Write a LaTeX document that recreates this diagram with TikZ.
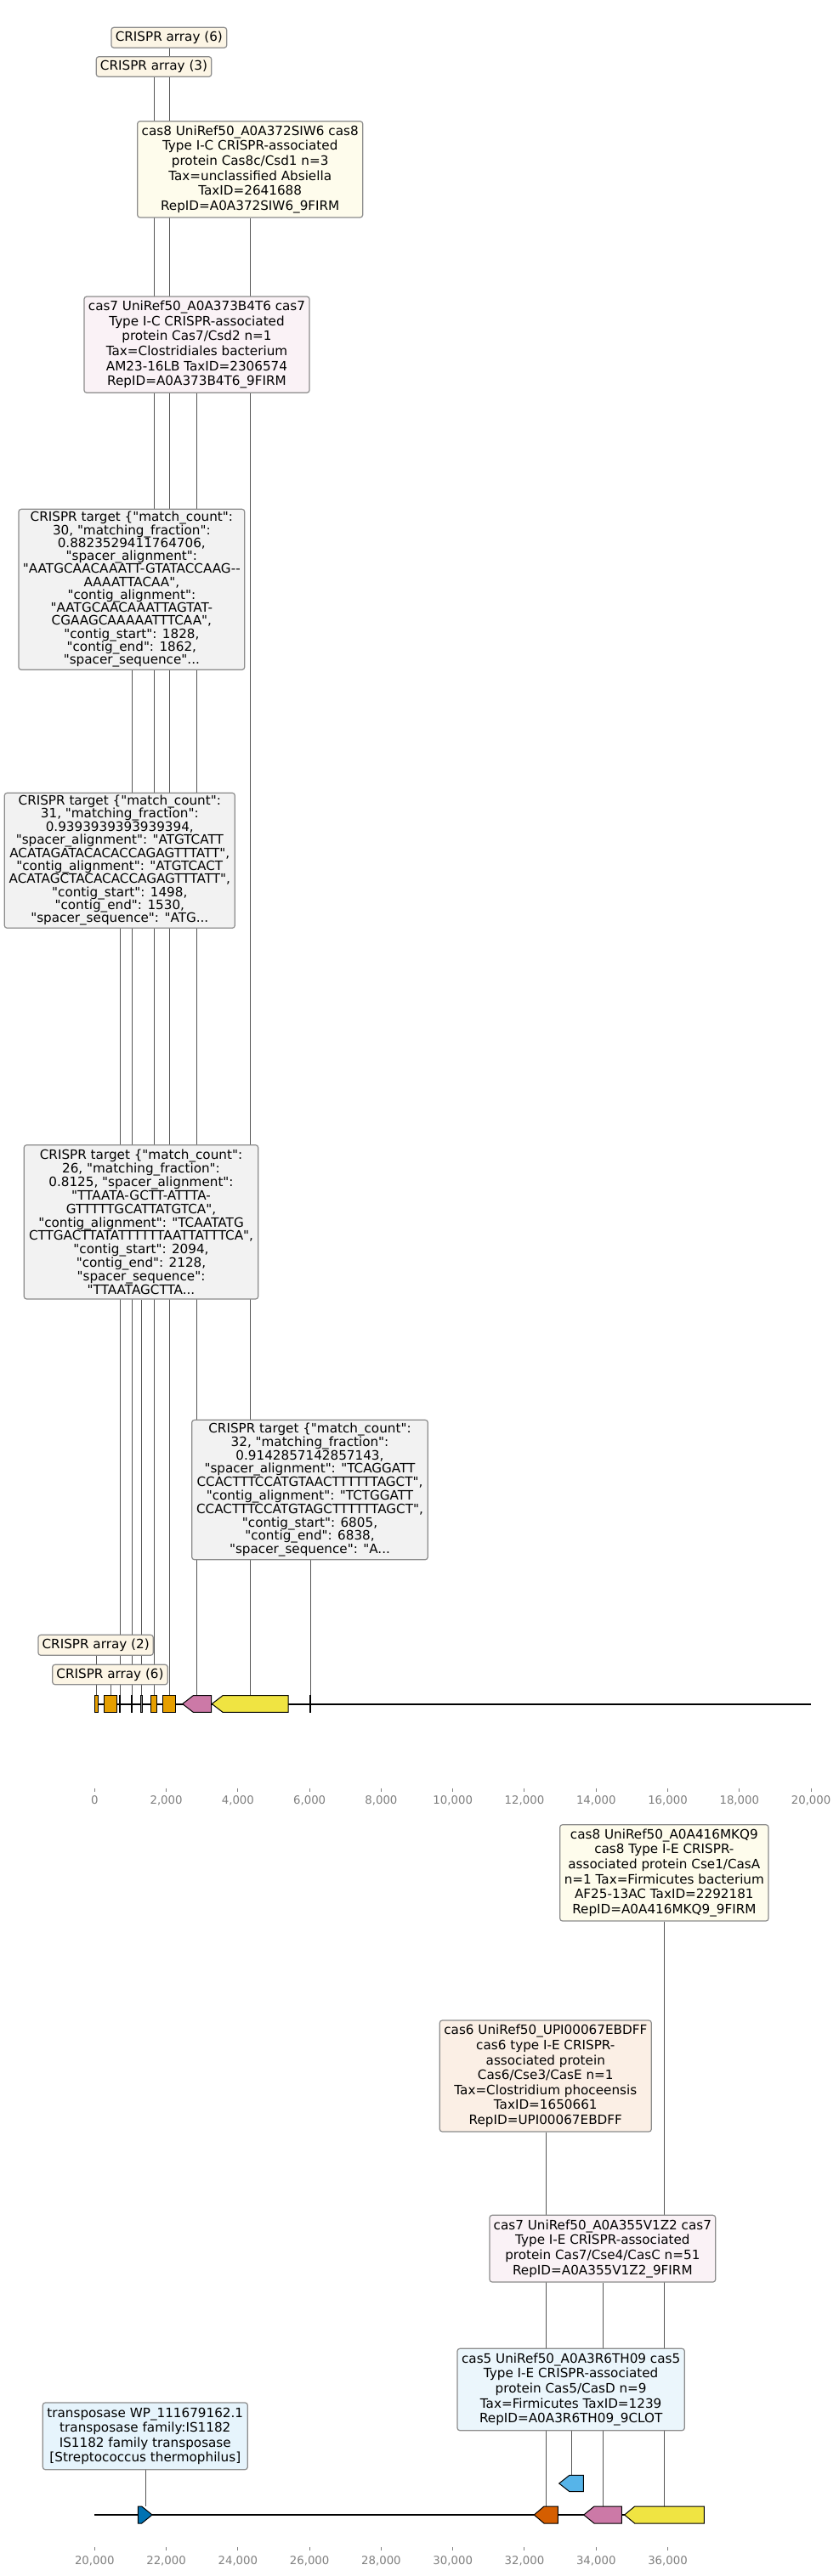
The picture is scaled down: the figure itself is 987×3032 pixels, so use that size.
\documentclass[tikz,border=0pt]{standalone}
\usepackage{fontspec}
\setmainfont{DejaVu Sans}[Ligatures=TeXOff]
\usetikzlibrary{backgrounds}
\definecolor{cOrange}{HTML}{E69F00}
\definecolor{cPink}{HTML}{CC79A7}
\definecolor{cYellow}{HTML}{F0E442}
\definecolor{cBlue}{HTML}{0072B2}
\definecolor{cSky}{HTML}{56B4E9}
\definecolor{cVerm}{HTML}{D55E00}
\definecolor{cGray}{HTML}{808080}
\definecolor{boxedge}{HTML}{8C8C8C}
\definecolor{conn}{HTML}{555555}
\tikzset{
 lab/.style={draw=boxedge, line width=1.2pt, rounded corners=3pt, inner sep=0pt, align=center, font=\fontsize{15.2}{17.6}\selectfont},
 tgt/.style={lab, fill=cGray!10},
 feat/.style={draw=black, line width=1pt},
 link/.style={draw=conn, line width=1pt},
 track/.style={draw=black, line width=2pt},
 tickmark/.style={draw=cGray, line width=1pt},
 ticklab/.style={text=cGray, font=\fontsize{13.3}{16}\selectfont, inner sep=0pt},
}
\begin{document}
\begin{tikzpicture}[x=1pt,y=-1pt]
\useasboundingbox (0,0) rectangle (987,3032);

% ---------------- labels, panel 1 ----------------
\node[lab, fill=cOrange!10, minimum width=135.7pt, minimum height=24pt] (CA6t) at (198.85,44.3) {CRISPR array (6)};
\node[lab, fill=cOrange!10, minimum width=135.4pt, minimum height=23.6pt] (CA3) at (181,78.5) {CRISPR array (3)};
\node[lab, fill=cYellow!10, minimum width=265pt, minimum height=113.3pt] (cas8C) at (294.2,199.35)
 {cas8 UniRef50\_A0A372SIW6 cas8\\Type I-C CRISPR-associated\\protein Cas8c/Csd1 n=3\\Tax=unclassified Absiella\\TaxID=2641688\\RepID=A0A372SIW6\_9FIRM};
\node[lab, fill=cPink!10, minimum width=265pt, minimum height=113.3pt] (cas7C) at (231.5,405.65)
 {cas7 UniRef50\_A0A373B4T6 cas7\\Type I-C CRISPR-associated\\protein Cas7/Csd2 n=1\\Tax=Clostridiales bacterium\\AM23-16LB TaxID=2306574\\RepID=A0A373B4T6\_9FIRM};
\node[tgt, font=\fontsize{15.2}{15.24}\selectfont, minimum width=265.7pt, minimum height=189pt] (T1) at (154.85,693.8)
 {CRISPR target \{"match\_count":\\30, "matching\_fraction":\\0.8823529411764706,\\"spacer\_alignment":\\"AATGCAACAAATT-GTATACCAAG-{}-\\AAAATTACAA",\\"contig\_alignment":\\"AATGCAACAAATTAGTAT-\\CGAAGCAAAAATTTCAA",\\"contig\_start": 1828,\\"contig\_end": 1862,\\"spacer\_sequence"...};
\node[tgt, font=\fontsize{15.2}{15.37}\selectfont, minimum width=271pt, minimum height=159pt] (T2) at (140.8,1012.8)
 {CRISPR target \{"match\_count":\\31, "matching\_fraction":\\0.9393939393939394,\\"spacer\_alignment": "ATGTCATT\\ACATAGATACACACCAGAGTTTATT",\\"contig\_alignment": "ATGTCACT\\ACATAGCTACACACCAGAGTTTATT",\\"contig\_start": 1498,\\"contig\_end": 1530,\\"spacer\_sequence": "ATG...};
\node[tgt, font=\fontsize{15.2}{15.93}\selectfont, minimum width=275.4pt, minimum height=181.3pt] (T3) at (166,1438.35)
 {CRISPR target \{"match\_count":\\26, "matching\_fraction":\\0.8125, "spacer\_alignment":\\"TTAATA-GCTT-ATTTA-\\GTTTTTGCATTATGTCA",\\"contig\_alignment": "TCAATATG\\CTTGACTTATATTTTTTAATTATTTCA",\\"contig\_start": 2094,\\"contig\_end": 2128,\\"spacer\_sequence":\\"TTAATAGCTTA...};
\node[tgt, font=\fontsize{15.2}{15.8}\selectfont, minimum width=277.6pt, minimum height=164.4pt] (T4) at (364.5,1753.5)
 {CRISPR target \{"match\_count":\\32, "matching\_fraction":\\0.9142857142857143,\\"spacer\_alignment": "TCAGGATT\\CCACTTTCCATGTAACTTTTTTAGCT",\\"contig\_alignment": "TCTGGATT\\CCACTTTCCATGTAGCTTTTTTAGCT",\\"contig\_start": 6805,\\"contig\_end": 6838,\\"spacer\_sequence": "A...};
\node[lab, fill=cOrange!10, minimum width=135.3pt, minimum height=24pt] (CA2) at (112.65,1936.3) {CRISPR array (2)};
\node[lab, fill=cOrange!10, minimum width=135.6pt, minimum height=23.4pt] (CA6b) at (129.5,1971) {CRISPR array (6)};

% ---------------- labels, panel 2 ----------------
\node[lab, fill=cYellow!10, minimum width=245.3pt, minimum height=113.3pt] (cas8E) at (781.35,2204.35)
 {cas8 UniRef50\_A0A416MKQ9\\cas8 Type I-E CRISPR-\\associated protein Cse1/CasA\\n=1 Tax=Firmicutes bacterium\\AF25-13AC TaxID=2292181\\RepID=A0A416MKQ9\_9FIRM};
\node[lab, fill=cVerm!10, minimum width=249pt, minimum height=131pt] (cas6) at (641.8,2443.5)
 {cas6 UniRef50\_UPI00067EBDFF\\cas6 type I-E CRISPR-\\associated protein\\Cas6/Cse3/CasE n=1\\Tax=Clostridium phoceensis\\TaxID=1650661\\RepID=UPI00067EBDFF};
\node[lab, fill=cPink!10, minimum width=265.7pt, minimum height=78.7pt] (cas7E) at (708.85,2646.65)
 {cas7 UniRef50\_A0A355V1Z2 cas7\\Type I-E CRISPR-associated\\protein Cas7/Cse4/CasC n=51\\RepID=A0A355V1Z2\_9FIRM};
\node[lab, fill=cSky!12, minimum width=267.3pt, minimum height=96.4pt] (cas5) at (671.65,2812.5)
 {cas5 UniRef50\_A0A3R6TH09 cas5\\Type I-E CRISPR-associated\\protein Cas5/CasD n=9\\Tax=Firmicutes TaxID=1239\\RepID=A0A3R6TH09\_9CLOT};
\node[lab, fill=cSky!15, minimum width=241pt, minimum height=78.7pt] (trans) at (170.8,2867.35)
 {transposase WP\_111679162.1\\transposase family:IS1182\\IS1182 family transposase\\{[}Streptococcus thermophilus{]}};

% ---------------- feature anchor points ----------------
\coordinate (pCA2) at (113.5,1995.7);
\coordinate (pCA6b) at (130,1995.7);
\coordinate (pT2) at (141.2,1995.7);
\coordinate (pT1) at (155.2,1995.7);
\coordinate (pT3) at (166.3,1995.7);
\coordinate (pCA3) at (181,1995.7);
\coordinate (pCA6t) at (199,1995.7);
\coordinate (pcas7C) at (231.5,1995.7);
\coordinate (pcas8C) at (294.5,1995.7);
\coordinate (pT4) at (365.2,1995.7);
\coordinate (ptrans) at (171.3,2950);
\coordinate (pcas6) at (642.5,2950);
\coordinate (pcas5) at (672.3,2913.3);
\coordinate (pcas7E) at (709.3,2950);
\coordinate (pcas8E) at (781.3,2950);

% ---------------- connectors (behind labels) ----------------
\begin{scope}[on background layer]
\fill[white] (0,0) rectangle (987,3032);
\foreach \p/\l in {pCA2/CA2, pCA6b/CA6b, pT2/T2, pT1/T1, pT3/T3, pCA3/CA3, pCA6t/CA6t, pcas7C/cas7C, pcas8C/cas8C, pT4/T4, ptrans/trans, pcas6/cas6, pcas5/cas5, pcas7E/cas7E, pcas8E/cas8E}
  \draw[link] (\p) -- (\p |- \l.south);
\end{scope}

% ---------------- panel 1 track ----------------
\draw[track] (111.3,2005.5) -- (954,2005.5);
\filldraw[feat, fill=cOrange] (111.3,1995.7) rectangle (115.3,2015.3);
\filldraw[feat, fill=cOrange] (122,1995.7) rectangle (137.3,2015.3);
\filldraw[feat, fill=cGray] (140.5,1995.7) rectangle (141.9,2015.3);
\filldraw[feat, fill=cGray] (154.5,1995.7) rectangle (155.9,2015.3);
\filldraw[feat, fill=cGray] (165.6,1995.7) rectangle (167,2015.3);
\filldraw[feat, fill=cOrange] (177.3,1995.7) rectangle (184.3,2015.3);
\filldraw[feat, fill=cOrange] (191.3,1995.7) rectangle (206.7,2015.3);
\filldraw[feat, fill=cPink] (214.7,2005.5) -- (227.3,1995.7) -- (248.7,1995.7) -- (248.7,2015.3) -- (227.3,2015.3) -- cycle;
\filldraw[feat, fill=cYellow] (249.3,2005.5) -- (262,1995.7) -- (339,1995.7) -- (339,2015.3) -- (262,2015.3) -- cycle;
\filldraw[feat, fill=cGray] (364.5,1995.7) rectangle (365.9,2015.3);

\foreach \k in {0,...,10} {
  \draw[tickmark] ({111.3+84.28*\k},2104.5) -- ({111.3+84.28*\k},2108.5);
  \pgfmathtruncatemacro\v{2*\k}
  \ifnum\k=0
    \node[ticklab] (ta\k) at ({111.3+84.28*\k},2119) {0};
  \else
    \node[ticklab] (ta\k) at ({111.3+84.28*\k},2119) {\v,000};
  \fi
}

% ---------------- panel 2 track ----------------
\draw[track] (111.3,2960) -- (828,2960);
\filldraw[feat, fill=cBlue] (162.3,2950) -- (166.7,2950) -- (179,2960) -- (166.7,2970) -- (162.3,2970) -- cycle;
\filldraw[feat, fill=cVerm] (628.3,2960) -- (640,2950) -- (656.3,2950) -- (656.3,2970) -- (640,2970) -- cycle;
\filldraw[feat, fill=cSky] (657.7,2923) -- (670,2913.3) -- (686.3,2913.3) -- (686.3,2932.7) -- (670,2932.7) -- cycle;
\filldraw[feat, fill=cPink] (686.7,2960) -- (699,2950) -- (731.3,2950) -- (731.3,2970) -- (699,2970) -- cycle;
\filldraw[feat, fill=cYellow] (734.7,2960) -- (746.7,2950) -- (828.3,2950) -- (828.3,2970) -- (746.7,2970) -- cycle;

\foreach \k in {0,...,8} {
  \draw[tickmark] ({111.3+84.28*\k},2998) -- ({111.3+84.28*\k},3002);
  \pgfmathtruncatemacro\v{20+2*\k}
  \node[ticklab] (tb\k) at ({111.3+84.28*\k},3014) {\v,000};
}
\end{tikzpicture}
\end{document}
